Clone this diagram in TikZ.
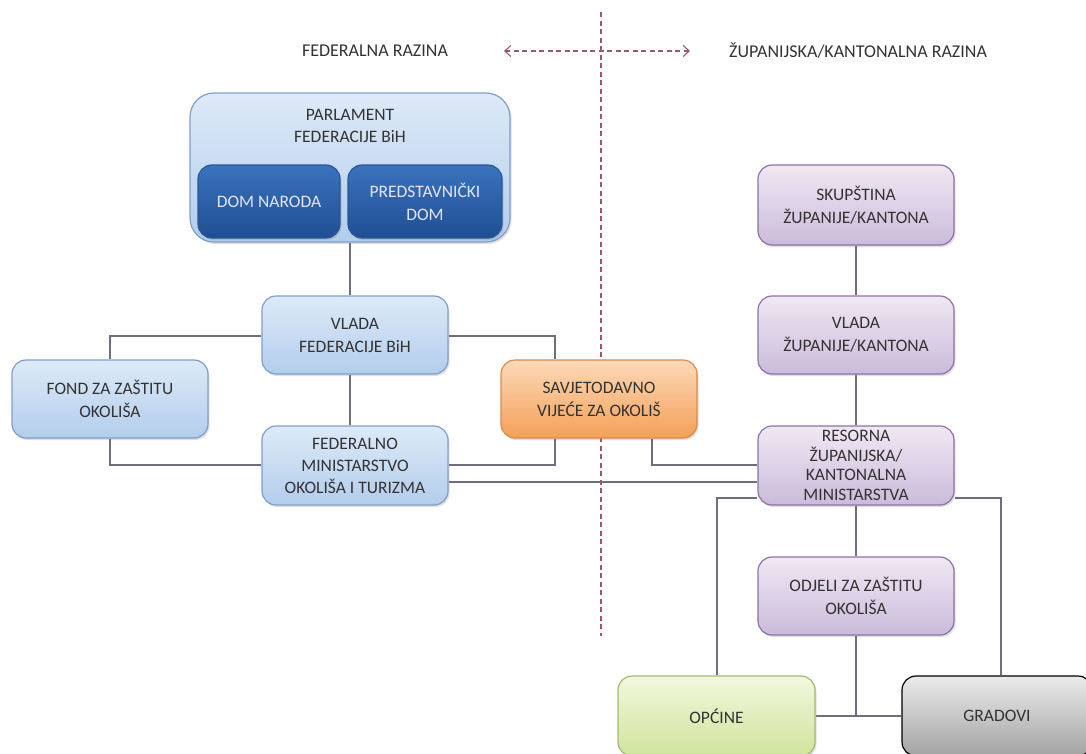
\documentclass[tikz,border=0pt]{standalone}
\usepackage{fontspec}
\setmainfont{Carlito}
\usetikzlibrary{arrows.meta,shadows}
\definecolor{txt}{HTML}{333333}
\definecolor{conn}{HTML}{6E6E7E}
\definecolor{dashc}{HTML}{9A5A6A}
\definecolor{lbd}{HTML}{7F9FC8}
\definecolor{lbt}{HTML}{DDEAF8}
\definecolor{lbb}{HTML}{B3CDEC}
\definecolor{dbd}{HTML}{2A5796}
\definecolor{dbt}{HTML}{3A73BE}
\definecolor{dbb}{HTML}{1F4E92}
\definecolor{ord}{HTML}{D98C4C}
\definecolor{ort}{HTML}{FCD9B8}
\definecolor{orb}{HTML}{F4A058}
\definecolor{pud}{HTML}{8C73A6}
\definecolor{put}{HTML}{F0E8F3}
\definecolor{pub}{HTML}{CBBBDB}
\definecolor{grd}{HTML}{A2BB6C}
\definecolor{grt}{HTML}{F2F8DE}
\definecolor{grb}{HTML}{CFE49C}
\definecolor{gyt}{HTML}{EBEBEB}
\definecolor{gyb}{HTML}{A3A3A3}
\tikzset{
  box/.style={draw, line width=1.2pt, rounded corners=14pt, inner sep=0pt,
    align=center, text=txt, font=\fontsize{17.5}{23}\selectfont,
    drop shadow={shadow xshift=1.5pt, shadow yshift=-2pt, opacity=0.25}},
  lightblue/.style={box, draw=lbd, top color=lbt, bottom color=lbb},
  darkblue/.style={box, draw=dbd, top color=dbt, bottom color=dbb, text=white!90!blue},
  orangebox/.style={box, draw=ord, top color=ort, bottom color=orb},
  purplebox/.style={box, draw=pud, top color=put, bottom color=pub},
  greenbox/.style={box, draw=grd, top color=grt, bottom color=grb},
  graybox/.style={box, draw=black, top color=gyt, bottom color=gyb},
  conn/.style={draw=conn, line width=1.3pt},
  head/.style={text=txt, font=\fontsize{18}{22}\selectfont},
  dashline/.style={draw=dashc, line width=1.1pt, dash pattern=on 5pt off 3.5pt},
}
\begin{document}
\begin{tikzpicture}[x=1pt,y=-1pt]
\useasboundingbox (0,0) rectangle (1086,753);
% headings
\node[head] (fedh) at (375,51) {FEDERALNA RAZINA};
\node[head] (zuph) at (858,51) {ŽUPANIJSKA/KANTONALNA RAZINA};
\coordinate (al) at (504,51);
\coordinate (ar) at (690,51);
\coordinate (vt) at (601,12);
\coordinate (vb) at (601,636);
\draw[dashline] (vt) -- (vb);
\draw[dashline, {Straight Barb[length=6pt,width=11pt]}-{Straight Barb[length=6pt,width=11pt]}] (al) -- (ar);
\coordinate (c1) at (350,336);
\coordinate (c2) at (350,465);
\coordinate (c3) at (350,482);
% federal boxes
\node[lightblue, rounded corners=24pt, minimum width=320pt, minimum height=149pt] (parl) at (350,167.5) {};
\node[text=txt, align=center, font=\fontsize{17.5}{22}\selectfont] (parlt) at (350,126) {PARLAMENT\\FEDERACIJE BiH};
\node[darkblue, minimum width=142pt, minimum height=73pt] (dom) at (269,201.5) {DOM NARODA};
\node[darkblue, minimum width=154pt, minimum height=73pt] (pred) at (425,201.5) {PREDSTAVNIČKI\\DOM};
\node[lightblue, minimum width=186pt, minimum height=78pt] (vlada) at (355,335) {VLADA\\FEDERACIJE BiH};
\node[lightblue, minimum width=196pt, minimum height=78pt] (fond) at (110,399) {FOND ZA ZAŠTITU\\OKOLIŠA};
\node[lightblue, minimum width=186pt, minimum height=79pt, font=\fontsize{17.5}{22}\selectfont] (fmin) at (355,465.5) {FEDERALNO\\MINISTARSTVO\\OKOLIŠA I TURIZMA};
\node[orangebox, minimum width=196pt, minimum height=78pt] (savj) at (599,399) {SAVJETODAVNO\\VIJEĆE ZA OKOLIŠ};
% cantonal boxes
\node[purplebox, minimum width=196pt, minimum height=80pt] (skup) at (856,205) {SKUPŠTINA\\ŽUPANIJE/KANTONA};
\node[purplebox, minimum width=196pt, minimum height=78pt] (vzup) at (856,335) {VLADA\\ŽUPANIJE/KANTONA};
\node[purplebox, minimum width=196pt, minimum height=79pt, font=\fontsize{17.5}{19.5}\selectfont] (res) at (856,465.5) {RESORNA\\ŽUPANIJSKA/\\KANTONALNA\\MINISTARSTVA};
\node[purplebox, minimum width=196pt, minimum height=78pt] (odj) at (856,596) {ODJELI ZA ZAŠTITU\\OKOLIŠA};
\node[greenbox, minimum width=197pt, minimum height=80pt] (opc) at (716.5,716) {OPĆINE};
\node[graybox, minimum width=190pt, minimum height=80pt] (grad) at (997,716) {GRADOVI};
% connectors
\draw[conn] (parl.south) -- (parl.south |- vlada.north);
\draw[conn] (vlada.west |- c1) -| (fond.north);
\draw[conn] (vlada.east |- c1) -| (555,0 |- savj.north);
\draw[conn] (350,0 |- vlada.south) -- (350,0 |- fmin.north);
\draw[conn] (fond.south) |- (fmin.west |- c2);
\draw[conn] (555,0 |- savj.south) |- (fmin.east |- c2);
\draw[conn] (fmin.east |- c3) -- (res.west |- c3);
\draw[conn] (652,0 |- savj.south) |- (res.west |- c2);
\draw[conn] (skup.south) -- (vzup.north);
\draw[conn] (vzup.south) -- (res.north);
\draw[conn] (res.south) -- (odj.north);
\draw[conn] (res.west |- 0,498) -| (717,0 |- opc.north);
\draw[conn] (res.east |- 0,498) -| (1001,0 |- grad.north);
\draw[conn] (opc.east) -- (grad.west);
\coordinate (jn) at (odj.south |- opc.east);
\draw[conn] (odj.south) -- (jn);
\end{tikzpicture}
\end{document}
